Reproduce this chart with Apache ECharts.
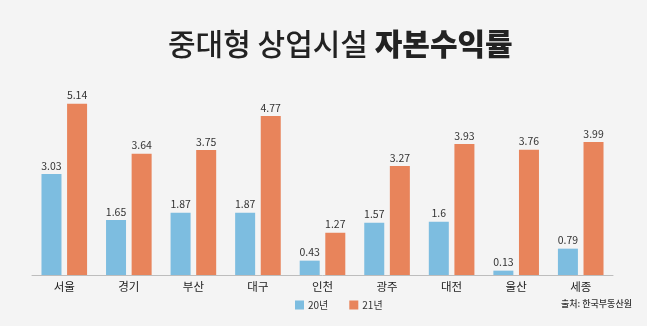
<!DOCTYPE html>
<html><head><meta charset="utf-8">
<script src="https://cdn.jsdelivr.net/npm/echarts@6/dist/echarts.min.js"></script>
<style>html,body{margin:0;padding:0;background:#f4f4f4}#c{width:647px;height:326px}</style>
</head><body><div id="c"></div>
<script>
const categories = ['서울','경기','부산','대구','인천','광주','대전','울산','세종'];
const values20 = [3.03,1.65,1.87,1.87,0.43,1.57,1.6,0.13,0.79];
const values21 = [5.14,3.64,3.75,4.77,1.27,3.27,3.93,3.76,3.99];
const seriesNames = ['20년','21년'];
const FONT = '"Noto Sans CJK KR","Noto Sans",sans-serif';
const chart = echarts.init(document.getElementById('c'));
chart.setOption({
  backgroundColor: '#f4f4f4',
  animation: false,
  title: {
    text: '{a|중대형 상업시설 }{b|자본수익률}',
    left: 163, top: 24,
    textStyle: {
      rich: {
        a: {fontFamily: FONT, fontSize: 30, fontWeight: 500, color: '#222'},
        b: {fontFamily: FONT, fontSize: 30, fontWeight: 900, color: '#222'}
      }
    }
  },
  graphic: [{
    type: 'text', left: 561, top: 299,
    style: {text: '출처: 한국부동산원', fontFamily: FONT, fontSize: 9, fontWeight: 500, fill: '#333'}
  }],
  legend: {
    data: seriesNames, left: 290, top: 295, itemWidth: 9, itemHeight: 9, itemGap: 21,
    icon: 'rect',
    textStyle: {fontFamily: FONT, fontSize: 10, color: '#333', padding: [0,0,0,-1]}
  },
  grid: {left: 32, right: 34, top: 75, bottom: 51},
  xAxis: {
    type: 'category', data: categories,
    axisLine: {lineStyle: {color: '#bdbdbd', width: 1}},
    axisTick: {show: false},
    axisLabel: {fontFamily: FONT, fontSize: 11.5, color: '#222', margin: 6}
  },
  yAxis: {type: 'value', min: 0, max: 6, show: false, splitLine: {show: false}},
  series: [
    {name: seriesNames[0], type: 'bar', data: values20, barWidth: 20, barGap: '28%',
     itemStyle: {color: '#7dbde0'},
     label: {show: true, position: 'top', distance: 3, fontFamily: FONT, fontSize: 10.5, color: '#333'}},
    {name: seriesNames[1], type: 'bar', data: values21, barWidth: 20,
     itemStyle: {color: '#e8845b'},
     label: {show: true, position: 'top', distance: 3, fontFamily: FONT, fontSize: 10.5, color: '#333'}}
  ]
});
</script></body></html>
